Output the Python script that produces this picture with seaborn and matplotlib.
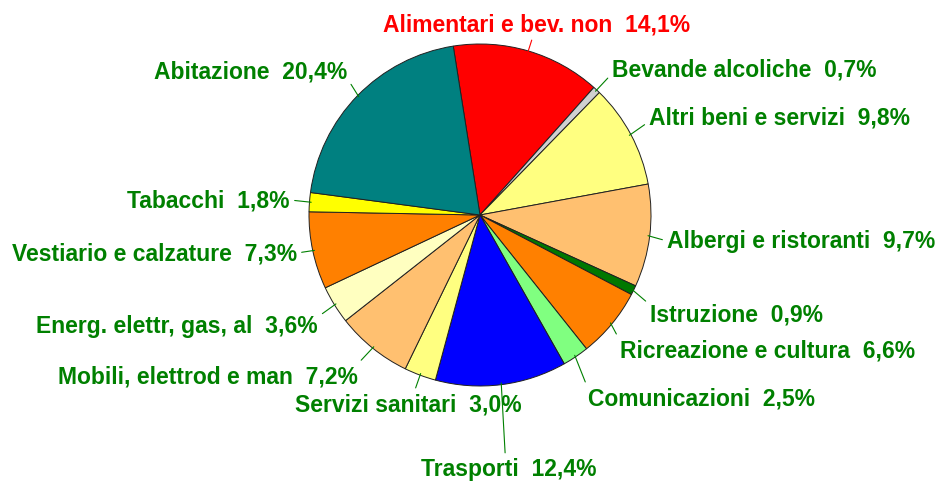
import numpy as np
import matplotlib
matplotlib.use("Agg")
import matplotlib.pyplot as plt
import seaborn as sns

categorie = [
    "Alimentari e bev. non", "Bevande alcoliche", "Altri beni e servizi",
    "Albergi e ristoranti", "Istruzione", "Ricreazione e cultura",
    "Comunicazioni", "Trasporti", "Servizi sanitari",
    "Mobili, elettrod e man", "Energ. elettr, gas, al",
    "Vestiario e calzature", "Tabacchi", "Abitazione",
]
quote = [14.1, 0.7, 9.8, 9.7, 0.9, 6.6, 2.5, 12.4, 3.0, 7.2, 3.6, 7.3, 1.8, 20.4]
etichette_valori = ["14,1%", "0,7%", "9,8%", "9,7%", "0,9%", "6,6%", "2,5%",
                    "12,4%", "3,0%", "7,2%", "3,6%", "7,3%", "1,8%", "20,4%"]

colori = ["#ff0000", "#d0d0d0", "#ffff80", "#ffc070", "#007800", "#ff8000",
          "#80ff80", "#0000ff", "#ffff80", "#ffc070", "#ffffc0", "#ff8000",
          "#ffff00", "#008080"]

# label placement in image pixels: (x, y, ha, relpos)
layout = [
    (537, 25, "center", (0.49, 0.1)),
    (612, 70, "left", (0, 0.3)),
    (649, 118, "left", (0, 0.3)),
    (667, 242, "left", (0, 0.5)),
    (650, 315, "left", (0, 0.9)),
    (620, 351, "left", (0, 0.9)),
    (588, 399, "left", (0, 0.9)),
    (509, 470, "center", (0.48, 0.9)),
    (522, 405, "right", (0.52, 0.9)),
    (358, 377, "right", (0.99, 0.9)),
    (318, 327, "right", (1, 0.9)),
    (297, 254, "right", (1, 0.5)),
    (290, 201, "right", (1, 0.5)),
    (347, 72, "right", (1, 0.2)),
]

W, H = 937, 485
sns.set_theme(style="white")
plt.rcParams["font.family"] = ["Liberation Sans", "DejaVu Sans"]

fig = plt.figure(figsize=(W / 100, H / 100), dpi=100)
ax = fig.add_axes([0, 0, 1, 1])

cx, cy, r = 480, H - 216, 171
wedges, _ = ax.pie(
    quote, colors=colori, startangle=99, counterclock=False,
    center=(cx, cy), radius=r, frame=True,
    wedgeprops=dict(edgecolor="#202020", linewidth=0.7),
)
ax.set_xlim(0, W)
ax.set_ylim(0, H)
ax.axis("off")

for w, nome, val, (tx, ty, ha, rp) in zip(wedges, categorie, etichette_valori, layout):
    mid = np.deg2rad((w.theta1 + w.theta2) / 2)
    px = cx + r * 0.99 * np.cos(mid)
    py = cy + r * 0.99 * np.sin(mid)
    col = "#ff0000" if nome.startswith("Alimentari") else "#008000"
    ax.annotate(
        f"{nome}  {val}", xy=(px, py), xytext=(tx, H - ty),
        ha=ha, va="center", fontsize=16.5, fontweight="bold", color=col,
        arrowprops=dict(arrowstyle="-", color=col, lw=0.8,
                        shrinkA=1, shrinkB=0, relpos=rp),
    )

fig.savefig("out.png", dpi=100)
